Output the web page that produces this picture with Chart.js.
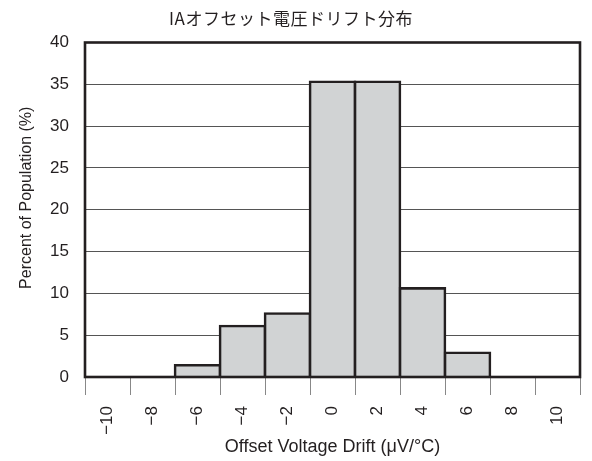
<!DOCTYPE html>
<html>
<head>
<meta charset="utf-8">
<script src="https://cdn.jsdelivr.net/npm/chart.js@4"></script>
<style>
  html, body { margin: 0; padding: 0; background: #fff; }
</style>
</head>
<body>
<canvas id="chart" width="592" height="461"></canvas>
<script>
const chartTitle = 'IAオフセット電圧ドリフト分布'
const xTitle = 'Offset Voltage Drift (μV/°C)'
const yTitle = 'Percent of Population (%)'

// histogram bins (μV/°C) and share of units in each bin
const binLabels = ['−10', '−8', '−6', '−4', '−2', '0', '2', '4', '6', '8', '10']
const percent = [0, 0, 1.4, 6.1, 7.6, 35.3, 35.3, 10.6, 2.9, 0, 0]

const yMin = 0
const yMax = 40
const yStep = 5

const INK = '#231f20'
const FONT = "'Liberation Sans', Arial, sans-serif"

// plot frame + the two titles that Chart.js can't place where we want them
const frame = {
  id: 'frame',
  afterDatasetsDraw(chart) {
    const { ctx, chartArea: a } = chart
    ctx.save()
    ctx.strokeStyle = INK
    ctx.lineWidth = 2.6
    ctx.strokeRect(a.left, a.top, a.right - a.left, a.bottom - a.top)
    ctx.restore()
  },
  afterDraw(chart) {
    const { ctx, chartArea: a } = chart
    ctx.save()
    ctx.fillStyle = INK
    ctx.textAlign = 'center'
    ctx.textBaseline = 'middle'
    ctx.font = "17px 'Noto Sans CJK JP', sans-serif"
    ctx.letterSpacing = '0.5px'
    ctx.fillText(chartTitle, 291, 19)
    ctx.letterSpacing = '0px'
    ctx.font = '16px ' + FONT
    ctx.translate(27, (a.top + a.bottom) / 2 - 12)
    ctx.rotate(-Math.PI / 2)
    ctx.fillText(yTitle, 0, 0)
    ctx.restore()
  }
}

new Chart(document.getElementById('chart'), {
  type: 'bar',
  data: {
    labels: binLabels,
    datasets: [{
      data: percent,
      backgroundColor: '#d1d3d4',
      borderColor: INK,
      borderWidth: 2.6,
      inflateAmount: 1.3,
      borderSkipped: 'start',
      categoryPercentage: 1,
      barPercentage: 1,
    }],
  },
  options: {
    responsive: false,
    animation: false,
    devicePixelRatio: 1,
    layout: { padding: { top: 42.5, right: 12, bottom: 0, left: 0 } },
    plugins: { legend: { display: false }, tooltip: { enabled: false }, title: { display: false } },
    scales: {
      x: {
        offset: true,
        grid: { offset: true, drawOnChartArea: false, tickLength: 18, color: '#888', lineWidth: 1 },
        border: { display: false },
        ticks: { minRotation: 90, maxRotation: 90, padding: 11, color: INK, font: { family: FONT, size: 17 } },
        title: { display: true, text: xTitle, color: INK, font: { family: FONT, size: 18 }, padding: { top: 0, bottom: 3 } },
        afterFit: s => { s.height = 84 },
      },
      y: {
        min: yMin,
        max: yMax,
        ticks: { stepSize: yStep, padding: 16, color: INK, font: { family: FONT, size: 17 } },
        grid: { drawTicks: false, color: '#555', lineWidth: 1 },
        border: { display: false },
        afterFit: s => { s.width = 85 },
      },
    },
  },
  plugins: [frame],
})
</script>
</body>
</html>
